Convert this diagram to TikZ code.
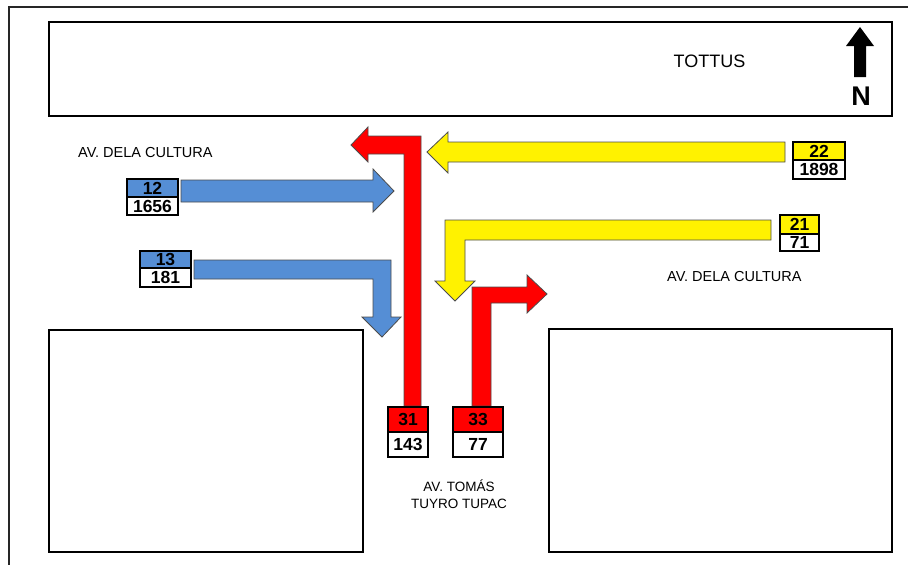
\documentclass[tikz,border=0pt]{standalone}
\usepackage{fontspec}
\setmainfont{Liberation Sans}
\usepackage{tikz}
\usetikzlibrary{positioning}
\usepackage{xcolor}
\definecolor{azul}{RGB}{85,142,213}

\begin{document}
\begin{tikzpicture}[
    x=1pt,y=-1pt,
    lote/.style={draw=black,line width=2pt},
    blk/.style={draw=black!70,line width=.8pt,line join=miter},
    cnt/.style={draw=black,line width=2pt,inner sep=0pt,outer sep=0pt,font=\fontsize{17.5}{17.5}\selectfont\bfseries},
    via/.style={font=\fontsize{14.5}{17}\selectfont,inner sep=0pt}
  ]
    \useasboundingbox (0,0) rectangle (908,565);
    % marco y manzanas
    \draw[line width=2pt,black!85] (9,565) -- (9,7) -- (908,7);
    \draw[line width=1.5pt] (49,22) rectangle (892,116);
    \draw[lote] (49,330) rectangle (363,552);
    \draw[lote] (549,329) rectangle (892,552);
    \node[inner sep=0pt,font=\fontsize{18}{18}\selectfont] (tottus) at (709.5,61) {TOTTUS};
    % norte
    \fill (854,77) -- (866,77) -- (866,46) -- (874,46) -- (860,27) -- (846,46) -- (854,46) -- cycle;
    \node[inner sep=0pt,font=\fontsize{27}{27}\selectfont\bfseries] (norte) at (861,96) {N};
    % flujos
    \filldraw[blk,fill=red] (421,406) -- (421,136) -- (368,136) -- (368,127) -- (351,145) -- (368,162) -- (368,154) -- (404,154) -- (404,406) -- cycle;
    \filldraw[blk,fill=red] (472,406) -- (472,287) -- (527,287) -- (527,275) -- (547,294) -- (527,313) -- (527,303) -- (491,303) -- (491,406) -- cycle;
    \filldraw[blk,fill=yellow] (785,142) -- (448,142) -- (448,132) -- (427,152) -- (448,173) -- (448,162) -- (785,162) -- cycle;
    \filldraw[blk,fill=yellow] (771,220) -- (445,220) -- (445,281) -- (435,281) -- (455,301) -- (475,281) -- (465,281) -- (465,240) -- (771,240) -- cycle;
    \filldraw[blk,fill=azul] (181,180) -- (373,180) -- (373,169) -- (394,191) -- (373,212) -- (373,202) -- (181,202) -- cycle;
    \filldraw[blk,fill=azul] (194,260) -- (391,260) -- (391,317) -- (401,317) -- (382,337) -- (362,317) -- (373,317) -- (373,279) -- (194,279) -- cycle;
    % conteos
    \node[cnt,fill=azul,minimum width=51,minimum height=18] (m12) at (152.5,188) {12};
    \node[cnt,fill=white,minimum width=51,minimum height=18,below=0pt of m12] (v12) {1656};
    \node[cnt,fill=azul,minimum width=51,minimum height=17] (m13) at (165.5,259.5) {13};
    \node[cnt,fill=white,minimum width=51,minimum height=19,below=0pt of m13] (v13) {181};
    \node[cnt,fill=yellow,minimum width=52,minimum height=18] (m22) at (819,151) {22};
    \node[cnt,fill=white,minimum width=52,minimum height=19,below=0pt of m22] (v22) {1898};
    \node[cnt,fill=yellow,minimum width=39,minimum height=19] (m21) at (799.5,224.5) {21};
    \node[cnt,fill=white,minimum width=39,minimum height=17,below=0pt of m21] (v21) {71};
    \node[cnt,fill=red,minimum width=40,minimum height=25] (m31) at (408,419.5) {31};
    \node[cnt,fill=white,minimum width=40,minimum height=25,below=0pt of m31] (v31) {143};
    \node[cnt,fill=red,minimum width=50,minimum height=25] (m33) at (478,419.5) {33};
    \node[cnt,fill=white,minimum width=50,minimum height=25,below=0pt of m33] (v33) {77};
    % avenidas
    \node[via,anchor=base west] (culturaO) at (78,157) {AV. DELA CULTURA};
    \node[via,anchor=base west] (culturaE) at (667,281.5) {AV. DELA CULTURA};
    \node[via,align=center,font=\fontsize{13.5}{17}\selectfont] (tomas) at (459,494) {AV. TOMÁS\\TUYRO TUPAC};
  \end{tikzpicture}
\end{document}
